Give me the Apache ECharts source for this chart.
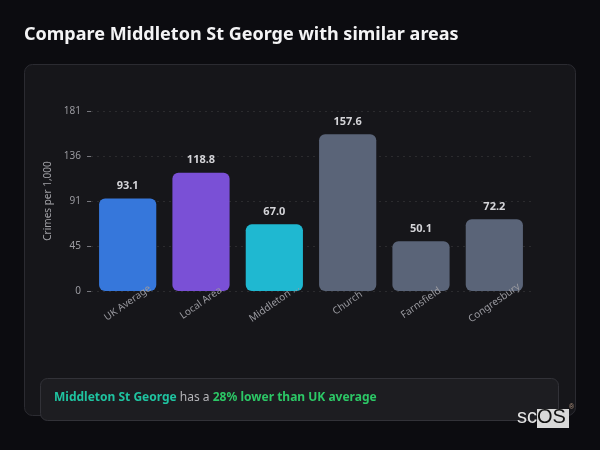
<!DOCTYPE html>
<html>
<head>
<meta charset="utf-8">
<script src="https://cdn.jsdelivr.net/npm/echarts@6/dist/echarts.min.js"></script>
<style>
html,body{margin:0;padding:0;background:#0c0c10;}
#chart{width:600px;height:450px;}
</style>
</head>
<body>
<div id="chart"></div>
<script>
const categories = ['UK Average', 'Local Area', 'Middleton St George', 'Church', 'Farnsfield', 'Congresbury'];
const values = [93.1, 118.8, 67.0, 157.6, 50.1, 72.2];
const barColors = ['#3677db', '#7a50d6', '#1fb8d1', '#5a6478', '#5a6478', '#5a6478'];
const yMax = 181;
const yInterval = 45.25;

const chart = echarts.init(document.getElementById('chart'), null, {renderer: 'canvas'});
const FONT = '"Noto Sans", "Open Sans", sans-serif';

chart.setOption({
  backgroundColor: '#0c0c10',
  animation: false,
  title: {
    text: 'Compare Middleton St George with similar areas',
    left: 24, top: 26, padding: 0,
    textStyle: {color: '#f4f4f5', fontSize: 18, fontWeight: 'bold', fontFamily: FONT}
  },
  graphic: [
    {type: 'rect', z: -10, shape: {x: 24.5, y: 64.5, width: 551, height: 351, r: 8},
     style: {fill: '#16161a', stroke: '#2b2b31', lineWidth: 1}},
    {type: 'rect', z: 5, shape: {x: 40.5, y: 378.5, width: 518, height: 42, r: 7},
     style: {fill: '#1d1d21', stroke: '#323238', lineWidth: 1}},
    {type: 'text', z: 6, left: 54, top: 392,
     style: {
       text: '{a|Middleton St George}{b| has a }{c|28% lower than UK average}',
       rich: {
         a: {fill: '#1fc3a0', fontWeight: 'bold', fontSize: 12, fontFamily: FONT},
         b: {fill: '#b4b4b8', fontSize: 12, fontFamily: FONT},
         c: {fill: '#2cc766', fontWeight: 'bold', fontSize: 12, fontFamily: FONT}
       }
     }},
    {type: 'rect', z: 7, shape: {x: 537, y: 409, width: 32, height: 19},
     style: {fill: '#d8d8d8'}},
    {type: 'text', z: 8, left: 517, top: 407,
     style: {
       text: '{s|sc}{o|OS}',
       rich: {
         s: {fill: '#e4e4e4', fontSize: 20, fontFamily: '"Liberation Sans", Arial, sans-serif'},
         o: {fill: '#111111', fontSize: 20, fontFamily: '"Liberation Sans", Arial, sans-serif'}
       }
     }},
    {type: 'text', z: 8, left: 569, top: 404,
     style: {text: '®', fill: '#b89a84', fontSize: 7, fontFamily: '"Liberation Sans", Arial, sans-serif'}}
  ],
  grid: {left: 91, right: 69, top: 111, bottom: 159, containLabel: false},
  xAxis: {
    type: 'category',
    data: categories,
    z: 10,
    axisLine: {show: false},
    axisTick: {show: false},
    axisLabel: {
      rotate: 35, align: 'center', verticalAlign: 'middle', margin: 12,
      color: '#9a9aa0', fontSize: 10, fontFamily: FONT, interval: 0,
      formatter: v => (v.length > 12 ? v.slice(0, 10) + '...' : v)
    }
  },
  yAxis: {
    type: 'value',
    min: 0, max: yMax, interval: yInterval,
    name: 'Crimes per 1,000',
    nameLocation: 'middle', nameGap: 35,
    nameTextStyle: {color: '#a1a1a6', fontSize: 10, fontFamily: FONT},
    axisLine: {show: false},
    axisTick: {show: true, length: 4, lineStyle: {color: '#77777d'}},
    axisLabel: {
      color: '#9a9aa0', fontSize: 10, fontFamily: FONT, margin: 10,
      formatter: v => String(Math.round(v))
    },
    splitLine: {show: true, lineStyle: {color: 'rgba(255,255,255,0.09)', type: [2, 4]}}
  },
  series: [{
    type: 'bar',
    data: values.map((v, i) => ({value: v, itemStyle: {color: barColors[i]}})),
    barWidth: '78%',
    itemStyle: {borderRadius: 6},
    label: {
      show: true, position: 'top', distance: 7,
      color: '#d4d4d8', fontWeight: 'bold', fontSize: 11, fontFamily: FONT,
      formatter: p => p.value.toFixed(1)
    }
  }]
});
</script>
</body>
</html>
